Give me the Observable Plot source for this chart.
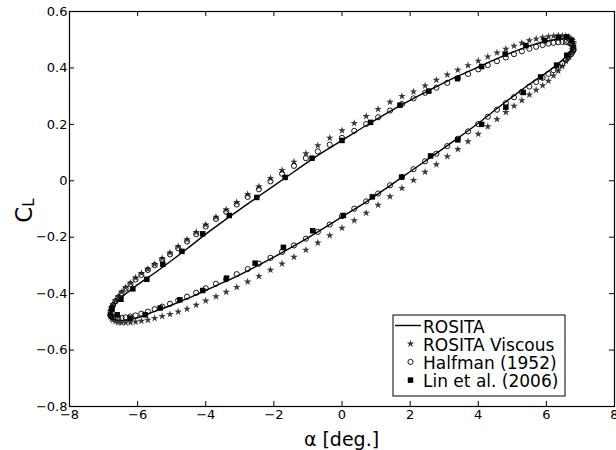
<!DOCTYPE html>
<html><head><meta charset="utf-8">
<script src="https://cdn.jsdelivr.net/npm/d3@7"></script>
<script src="https://cdn.jsdelivr.net/npm/@observablehq/plot@0.6"></script>
<style>body{margin:0;background:#fff;} #chart svg{display:block}</style>
</head><body><div id="chart"></div>
<script>
// ---- data ----
const xTicks = [-8, -6, -4, -2, 0, 2, 4, 6, 8];
const yTicks = [-0.8, -0.6, -0.4, -0.2, 0, 0.2, 0.4, 0.6];
const xDomain = [-8, 8];
const yDomain = [-0.8, 0.6];

const rositaAlpha = [-6.80,-6.76,-6.65,-6.47,-6.21,-5.89,-5.50,-5.05,-4.55,-4.00,-3.40,-2.77,-2.10,-1.41,-0.71,0,0.71,1.41,2.10,2.77,3.40,4.00,4.55,5.05,5.50,5.89,6.21,6.47,6.65,6.76,6.80,
  6.76,6.65,6.47,6.21,5.89,5.50,5.05,4.55,4.00,3.40,2.77,2.10,1.41,0.71,0,-0.71,-1.41,-2.10,-2.77,-3.40,-4.00,-4.55,-5.05,-5.50,-5.89,-6.21,-6.47,-6.65,-6.76,-6.80];
const rositaCL = [-0.475,-0.457,-0.438,-0.413,-0.387,-0.359,-0.327,-0.287,-0.241,-0.189,-0.136,-0.082,-0.026,0.032,0.090,0.143,0.196,0.246,0.292,0.334,0.371,0.403,0.433,0.458,0.478,0.492,0.500,0.504,0.504,0.496,0.485,
  0.471,0.453,0.428,0.402,0.374,0.342,0.302,0.256,0.204,0.151,0.097,0.041,-0.017,-0.075,-0.128,-0.181,-0.231,-0.277,-0.319,-0.356,-0.388,-0.418,-0.443,-0.463,-0.481,-0.492,-0.497,-0.495,-0.486,-0.475];

const viscousAlpha = [-6.80,-6.79,-6.76,-6.72,-6.65,-6.57,-6.47,-6.35,-6.21,-6.06,-5.89,-5.70,-5.50,-5.28,-5.05,-4.81,-4.55,-4.28,-4.00,-3.70,-3.40,-3.09,-2.77,-2.44,-2.10,-1.76,-1.41,-1.06,-0.71,-0.36,0,0.36,0.71,1.06,1.41,1.76,2.10,2.44,2.77,3.09,3.40,3.70,4.00,4.28,4.55,4.81,5.05,5.28,5.50,5.70,5.89,6.06,6.21,6.35,6.47,6.57,6.65,6.72,6.76,6.79,6.80,
  6.79,6.76,6.72,6.65,6.57,6.47,6.35,6.21,6.06,5.89,5.70,5.50,5.28,5.05,4.81,4.55,4.28,4.00,3.70,3.40,3.09,2.77,2.44,2.10,1.76,1.41,1.06,0.71,0.36,0,-0.36,-0.71,-1.06,-1.41,-1.76,-2.10,-2.44,-2.77,-3.09,-3.40,-3.70,-4.00,-4.28,-4.55,-4.81,-5.05,-5.28,-5.50,-5.70,-5.89,-6.06,-6.21,-6.35,-6.47,-6.57,-6.65,-6.72,-6.76,-6.79];
const viscousCL = [-0.472,-0.461,-0.449,-0.439,-0.425,-0.411,-0.394,-0.378,-0.362,-0.344,
  -0.328,-0.313,-0.296,-0.275,-0.255,-0.233,-0.208,-0.182,-0.156,-0.128,
  -0.102,-0.076,-0.048,-0.020,0.009,0.037,0.067,0.097,0.125,0.152,
  0.178,0.204,0.229,0.254,0.279,0.300,0.316,0.337,0.357,0.376,
  0.393,0.409,0.425,0.440,0.454,0.467,0.478,0.488,0.497,0.503,
  0.508,0.511,0.513,0.515,0.514,0.513,0.510,0.504,0.498,0.491,0.485,
  0.475,0.465,0.453,0.439,0.424,0.406,0.389,0.372,0.354,0.338,
  0.322,0.305,0.285,0.265,0.243,0.218,0.192,0.166,0.139,0.112,
  0.086,0.058,0.031,0.002,-0.026,-0.056,-0.086,-0.114,-0.141,-0.167,
  -0.194,-0.220,-0.245,-0.270,-0.294,-0.316,-0.338,-0.358,-0.377,-0.394,
  -0.410,-0.425,-0.440,-0.454,-0.464,-0.473,-0.480,-0.487,-0.493,-0.497,
  -0.500,-0.502,-0.503,-0.503,-0.502,-0.499,-0.494,-0.489,-0.481];

const halfmanAlpha = [-6.80,-6.79,-6.76,-6.72,-6.65,-6.57,-6.47,-6.35,-6.21,-6.06,-5.89,-5.70,-5.50,-5.28,-5.05,-4.81,-4.55,-4.28,-4.00,-3.70,-3.40,-3.09,-2.77,-2.44,-2.10,-1.76,-1.41,-1.06,-0.71,-0.36,0,0.36,0.71,1.06,1.41,1.76,2.10,2.44,2.77,3.09,3.40,3.70,4.00,4.28,4.55,4.81,5.05,5.28,5.50,5.70,5.89,6.06,6.21,6.35,6.47,6.57,6.65,6.72,6.76,6.79,6.80,
  6.79,6.76,6.72,6.65,6.57,6.47,6.35,6.21,6.06,5.89,5.70,5.50,5.28,5.05,4.81,4.55,4.28,4.00,3.70,3.40,3.09,2.77,2.44,2.10,1.76,1.41,1.06,0.71,0.36,0,-0.36,-0.71,-1.06,-1.41,-1.76,-2.10,-2.44,-2.77,-3.09,-3.40,-3.70,-4.00,-4.28,-4.55,-4.81,-5.05,-5.28,-5.50,-5.70,-5.89,-6.06,-6.21,-6.35,-6.47,-6.57,-6.65,-6.72,-6.76,-6.79];
const halfmanCL = [-0.476,-0.463,-0.450,-0.440,-0.427,-0.414,-0.398,-0.382,-0.366,-0.350,
  -0.334,-0.316,-0.299,-0.280,-0.261,-0.239,-0.215,-0.189,-0.162,-0.135,
  -0.110,-0.084,-0.057,-0.030,-0.002,0.025,0.053,0.080,0.104,0.128,
  0.152,0.177,0.201,0.225,0.249,0.272,0.292,0.312,0.330,0.347,
  0.364,0.379,0.395,0.410,0.424,0.437,0.449,0.459,0.468,0.475,
  0.481,0.486,0.489,0.491,0.492,0.492,0.490,0.486,0.481,0.474,0.466,
  0.462,0.455,0.448,0.438,0.428,0.416,0.404,0.392,0.379,0.365,
  0.350,0.334,0.315,0.296,0.275,0.252,0.227,0.201,0.175,0.149,
  0.123,0.096,0.069,0.041,0.013,-0.016,-0.045,-0.073,-0.099,-0.125,
  -0.155,-0.181,-0.205,-0.229,-0.252,-0.273,-0.294,-0.313,-0.331,-0.349,
  -0.365,-0.381,-0.397,-0.411,-0.424,-0.436,-0.446,-0.455,-0.464,-0.471,
  -0.477,-0.481,-0.484,-0.486,-0.486,-0.485,-0.483,-0.481,-0.479];

const linAlpha = [-6.75,-6.49,-6.14,-5.73,-5.26,-4.70,-4.09,-3.31,-2.50,-1.67,-0.88,0.00,0.84,1.70,2.55,3.39,4.10,4.79,5.40,5.95,6.35,6.60,6.74,
  6.60,6.30,5.83,5.32,4.81,4.10,3.40,2.60,1.75,0.89,0.04,-0.86,-1.72,-2.55,-3.39,-4.09,-4.76,-5.34,-5.78,-6.22,-6.60];
const linCL = [-0.455,-0.420,-0.383,-0.349,-0.296,-0.250,-0.188,-0.123,-0.059,0.012,0.080,0.143,0.207,0.268,0.318,0.362,0.405,0.449,0.479,0.497,0.507,0.510,0.497,
  0.445,0.410,0.368,0.313,0.261,0.200,0.145,0.088,0.013,-0.057,-0.123,-0.177,-0.236,-0.292,-0.345,-0.389,-0.422,-0.451,-0.475,-0.487,-0.475];

const seriesNames = ["ROSITA", "ROSITA Viscous", "Halfman (1952)", "Lin et al. (2006)"];

// ---- tables ----
const toRows = (A, C) => A.map((a, i) => ({a, cl: C[i]}));
const rosita = toRows(rositaAlpha, rositaCL);
const viscous = toRows(viscousAlpha, viscousCL);
const halfman = toRows(halfmanAlpha, halfmanCL);
const lin = toRows(linAlpha, linCL);

const fmt = d => (d < 0 ? "\u2212" : "") + Math.abs(d);
const TICK = 5;
const W = 616, H = 450, ML = 69, MR = 2, MT = 11, MB = 44;
const STAR_R = 2.4, CIRC_R = 2.6, SQ_R = 3.1;

const chart = Plot.plot({
  width: W, height: H,
  marginLeft: ML, marginRight: MR, marginTop: MT, marginBottom: MB,
  style: {fontFamily: "'DejaVu Sans', sans-serif", fontSize: "13px", color: "#000", background: "#fff", overflow: "visible"},
  x: {domain: xDomain},
  y: {domain: yDomain},
  marks: [
    Plot.line(rosita, {x: "a", y: "cl", stroke: "black", strokeWidth: 1.4, curve: "catmull-rom"}),
    Plot.dot(viscous, {x: "a", y: "cl", symbol: "star", r: STAR_R, fill: "#3a3a3a", stroke: null}),
    Plot.dot(halfman, {x: "a", y: "cl", symbol: "circle", r: CIRC_R, stroke: "black", strokeWidth: 0.9, fill: "none"}),
    Plot.dot(lin, {x: "a", y: "cl", symbol: "square", r: SQ_R, fill: "black", stroke: null}),
    Plot.ruleX(xTicks, {x: d => d, y1: () => yDomain[0], y2: () => yDomain[0], insetTop: -TICK, stroke: "black"}),
    Plot.ruleX(xTicks, {x: d => d, y1: () => yDomain[1], y2: () => yDomain[1], insetBottom: -TICK, stroke: "black"}),
    Plot.ruleY(yTicks, {y: d => d, x1: () => xDomain[0], x2: () => xDomain[0], insetRight: -TICK, stroke: "black"}),
    Plot.ruleY(yTicks, {y: d => d, x1: () => xDomain[1], x2: () => xDomain[1], insetLeft: -TICK, stroke: "black"}),
    Plot.axisX(xTicks, {tickSize: 0, tickPadding: 3, label: null, tickFormat: fmt}),
    Plot.axisY(yTicks, {tickSize: 0, tickPadding: 2, label: null, tickFormat: fmt}),
    Plot.frame({stroke: "black", strokeWidth: 1.2})
  ]
});
document.getElementById("chart").appendChild(chart);

// ---- axis titles ----
const svg = d3.select(chart);
svg.append("text")
  .attr("x", (ML + W - MR) / 2).attr("y", 446)
  .attr("text-anchor", "middle")
  .style("font-family", "'DejaVu Sans', sans-serif").style("font-size", "19px").attr("fill", "#000")
  .text("\u03b1 [deg.]");
const yl = svg.append("text")
  .attr("transform", `translate(31.5,${(MT + H - MB) / 2 + 2}) rotate(-90)`)
  .attr("text-anchor", "middle")
  .style("font-family", "'DejaVu Sans', sans-serif").attr("fill", "#000");
yl.append("tspan").style("font-size", "23px").text("C");
yl.append("tspan").style("font-size", "15px").attr("dy", 2).text("L");

// ---- legend ----
const lg = svg.append("g").style("font-family", "'DejaVu Sans', sans-serif").style("font-size", "17px");
lg.append("rect").attr("x", 393).attr("y", 315).attr("width", 172).attr("height", 81)
  .attr("fill", "white").attr("stroke", "black").attr("stroke-width", 1);
const rowY = i => 325.5 + 18.2 * i;
const mx = 410.5;
lg.append("line").attr("x1", 395).attr("x2", 421).attr("y1", rowY(0)).attr("y2", rowY(0)).attr("stroke", "black").attr("stroke-width", 1.4);
lg.append("path").attr("transform", `translate(${mx},${rowY(1)})`).attr("d", d3.symbol(d3.symbolStar, Math.PI * STAR_R * STAR_R)()).attr("fill", "#3a3a3a");
lg.append("path").attr("transform", `translate(${mx},${rowY(2)})`).attr("d", d3.symbol(d3.symbolCircle, Math.PI * CIRC_R * CIRC_R)()).attr("fill", "none").attr("stroke", "black").attr("stroke-width", 0.9);
lg.append("path").attr("transform", `translate(${mx},${rowY(3)})`).attr("d", d3.symbol(d3.symbolSquare, Math.PI * SQ_R * SQ_R)()).attr("fill", "black");
seriesNames.forEach((s, i) => {
  lg.append("text").attr("x", 423).attr("y", rowY(i) + 7).attr("text-anchor", "start").attr("fill", "#000").text(s);
});
</script>
</body></html>
